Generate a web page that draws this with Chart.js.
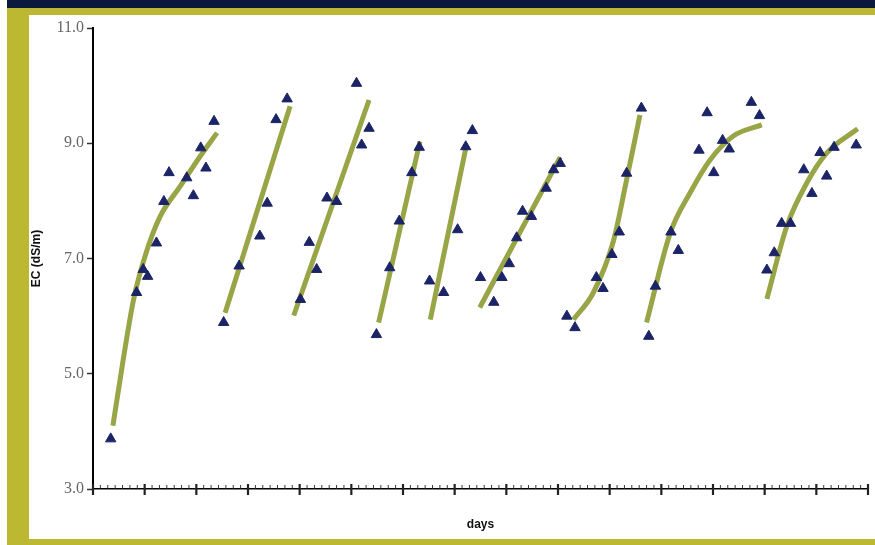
<!DOCTYPE html>
<html>
<head>
<meta charset="utf-8">
<script src="https://cdn.jsdelivr.net/npm/chart.js@4"></script>
<style>
  body { margin: 0; background: #fff; }
  #top { position: absolute; left: 7px; top: 0; width: 868px; height: 8px; background: #0b1a3c; }
  #frame { position: absolute; left: 7px; top: 8px; width: 868px; height: 537px; background: #bdb832; }
  #panel { position: absolute; left: 29px; top: 15px; width: 846px; height: 524px; background: #fff; }
</style>
</head>
<body>
<div id="top"></div>
<div id="frame"></div>
<div id="panel"><canvas id="ecChart" width="846" height="524"></canvas></div>
<script>
// measured EC readings (triangles)
const obsDay = [2.4, 5.9, 6.8, 7.4, 8.6, 9.6, 10.3, 12.7, 13.6, 14.6, 15.3, 16.4,
    17.7, 19.8, 22.6, 23.6, 24.8, 26.3,
    28.1, 29.3, 30.3, 31.7, 33.0, 35.7, 36.4, 37.4,
    38.4, 40.2, 41.5, 43.2, 44.2,
    45.6, 47.5, 49.4, 50.5, 51.4,
    52.5, 54.3, 55.4, 56.4, 57.4, 58.2, 59.4, 61.4, 62.4, 63.3,
    64.2, 65.3, 68.2, 69.1, 70.3, 71.3, 72.3, 74.3,
    75.3, 76.2, 78.3, 79.3, 82.1, 83.2, 84.1, 85.3, 86.2, 89.2, 90.3,
    91.3, 92.3, 93.3, 94.5, 96.3, 97.4, 98.5, 99.4, 100.4, 103.4];
const obsEC = [3.87, 6.41, 6.81, 6.69, 7.27, 7.99, 8.49, 8.40, 8.09, 8.92, 8.57, 9.38,
    5.89, 6.87, 7.39, 7.96, 9.41, 9.77,
    6.29, 7.28, 6.81, 8.05, 7.99, 10.04, 8.97, 9.26,
    5.68, 6.84, 7.65, 8.49, 8.93,
    6.61, 6.41, 7.50, 8.94, 9.22,
    6.67, 6.24, 6.67, 6.91, 7.36, 7.82, 7.73, 8.22, 8.54, 8.65,
    6.00, 5.80, 6.67, 6.48, 7.07, 7.46, 8.48, 9.61,
    5.65, 6.52, 7.46, 7.14, 8.88, 9.53, 8.49, 9.05, 8.90, 9.71, 9.48,
    6.80, 7.10, 7.61, 7.61, 8.54, 8.13, 8.84, 8.43, 8.93, 8.97];

// fitted trend per cycle, null splits the cycles
const fitDay = [2.7, 4.1, 5.5, 7.05, 9.1, 11.8, 14.5, 16.8, 17.2,
    17.9, 26.7, 27.0,
    27.2, 37.4, 38.0,
    38.7, 44.3, 45.0,
    45.7, 50.6, 51.5,
    52.4, 63.3, 64.0,
    65.1, 67.8, 70.5, 72.3, 74.1, 74.6,
    75.0, 78.2, 80.9, 83.6, 86.8, 90.6, 91.0,
    91.3, 94.0, 96.7, 99.4, 103.6];
const fitEC = [4.10, 5.25, 6.29, 7.04, 7.73, 8.25, 8.77, 9.18, null,
    6.06, 9.64, null,
    6.01, 9.75, null,
    5.89, 9.03, null,
    5.94, 8.97, null,
    6.15, 8.76, null,
    5.94, 6.41, 7.30, 8.37, 9.49, null,
    5.89, 7.44, 8.14, 8.71, 9.13, 9.32, null,
    6.30, 7.56, 8.31, 8.83, 9.25];

const yTicks = [3, 5, 7, 9, 11];

const obsPoints = obsDay.map((d, i) => ({ x: d, y: obsEC[i] }));
const fitPoints = fitDay.map((d, i) => ({ x: d, y: fitEC[i] }));

// small day ticks above the axis, bigger week ticks across it
const dayTicks = {
    id: 'dayTicks',
    afterDraw(chart) {
        const s = chart.scales.x;
        const c = chart.ctx;
        c.save();
        c.strokeStyle = '#222';
        for (let d = 0; d <= 105; d++) {
            const px = s.getPixelForValue(d);
            const major = d % 7 === 0;
            c.lineWidth = major ? 2.2 : 0.9;
            c.beginPath();
            c.moveTo(px, s.top - (major ? 5 : 4));
            c.lineTo(px, s.top + (major ? 6 : 0));
            c.stroke();
        }
        c.restore();
    }
};

const ctx = document.getElementById('ecChart').getContext('2d');
new Chart(ctx, {
    type: 'scatter',
    data: {
        datasets: [
            {
                data: obsPoints,
                pointStyle: 'triangle',
                pointRadius: 6,
                backgroundColor: '#1b2466',
                borderColor: '#1b2466',
                borderWidth: 1,
                order: 0
            },
            {
                type: 'line',
                data: fitPoints,
                borderColor: '#55c94e',
                borderWidth: 1.5,
                borderDash: [2, 3],
                pointRadius: 0,
                cubicInterpolationMode: 'monotone',
                spanGaps: false,
                order: 1
            },
            {
                type: 'line',
                data: fitPoints,
                borderColor: '#a39f45',
                borderWidth: 5,
                pointRadius: 0,
                cubicInterpolationMode: 'monotone',
                spanGaps: false,
                order: 2
            }
        ]
    },
    options: {
        animation: false,
        responsive: false,
        layout: { padding: { top: 13, right: 7, left: 0, bottom: 0 } },
        plugins: { legend: { display: false }, tooltip: { enabled: false } },
        scales: {
            x: {
                type: 'linear',
                min: 0,
                max: 105,
                afterFit: s => { s.height = 50; },
                ticks: { display: false },
                border: { color: '#000', width: 1.5 },
                grid: { drawOnChartArea: false, drawTicks: false },
                title: {
                    display: true,
                    text: 'days',
                    color: '#111',
                    font: { family: 'Liberation Sans', size: 12, weight: 'bold' },
                    padding: { top: 0, bottom: 7 }
                }
            },
            y: {
                min: 3,
                max: 11,
                afterFit: s => { s.width = 64; },
                afterBuildTicks: s => { s.ticks = yTicks.map(v => ({ value: v })); },
                ticks: {
                    color: '#666',
                    padding: 3,
                    font: { family: 'Liberation Serif', size: 16 },
                    callback: v => v.toFixed(1)
                },
                border: { color: '#000', width: 2 },
                grid: { drawOnChartArea: false, tickLength: 6, tickColor: '#333', tickWidth: 1.5 },
                title: {
                    display: true,
                    text: 'EC (dS/m)',
                    color: '#111',
                    font: { family: 'Liberation Sans', size: 12, weight: 'bold' },
                    padding: 0
                }
            }
        }
    },
    plugins: [dayTicks]
});
</script>
</body>
</html>
